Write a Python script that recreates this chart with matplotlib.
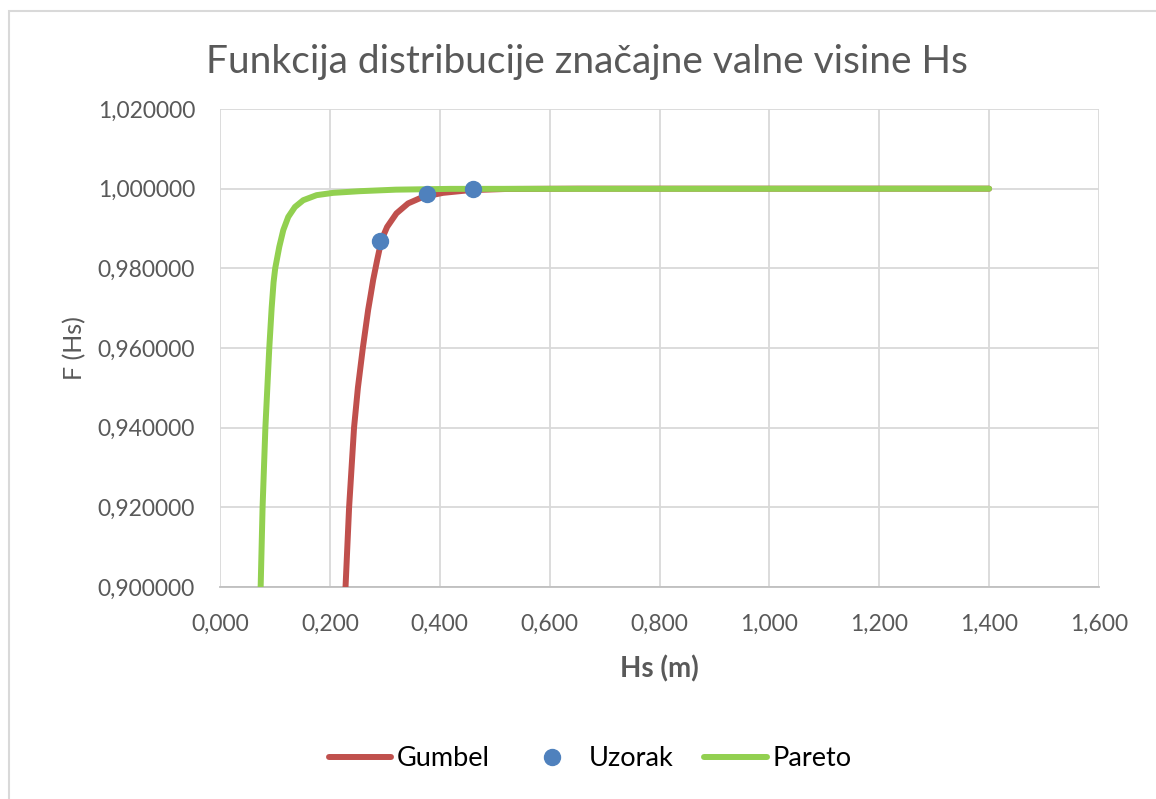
import matplotlib
matplotlib.use('Agg')
import matplotlib.pyplot as plt
from matplotlib.ticker import FuncFormatter, MultipleLocator
from matplotlib.patches import Rectangle

plt.rcParams['font.family'] = ['Lato', 'DejaVu Sans']

# Gumbel - očitane točke krivulje
gumbel_hs = [0.2285, 0.2350, 0.2440, 0.2510, 0.2600, 0.2697, 0.2745, 0.2788,
             0.2861, 0.2939, 0.3042, 0.3212, 0.3424, 0.3697, 0.4060, 0.4545, 0.5200,
             0.6500, 1.4000]
gumbel_f = [0.9000, 0.9200, 0.9400, 0.9500, 0.9600, 0.9696, 0.9735, 0.9771,
            0.9821, 0.9871, 0.9904, 0.9938, 0.9963, 0.99795, 0.99895, 0.99962, 0.99992,
            1.0000, 1.0000]

# Pareto
pareto_hs = [0.0740, 0.0775, 0.0826, 0.0897, 0.0940, 0.0975, 0.1005,
             0.1079, 0.1152, 0.1242, 0.1364, 0.1515, 0.1758, 0.2060, 0.2545, 0.3200,
             0.4200, 1.4000]
pareto_f = [0.9000, 0.9200, 0.9400, 0.9600, 0.9700, 0.9765, 0.9800,
            0.9854, 0.9896, 0.9929, 0.9954, 0.9971, 0.99837, 0.99895, 0.99937, 0.99975,
            0.99995, 1.0000]

# Uzorak
uzorak_hs = [0.2921, 0.3764, 0.4606]
uzorak_f = [0.98694, 0.99855, 1.0000]

fig = plt.figure(figsize=(11.56, 7.99), dpi=100)
ax = fig.add_axes([220 / 1156, 1 - 587 / 799, 879 / 1156, 478 / 799])

grey = '#595959'
ax.plot(gumbel_hs, gumbel_f, color='#C0504D', lw=4.3, solid_capstyle='round',
        solid_joinstyle='round', label='Gumbel', zorder=3)
ax.plot(uzorak_hs, uzorak_f, 'o', color='#4F81BD', ms=11.5, label='Uzorak', zorder=5)
ax.plot(pareto_hs, pareto_f, color='#92D050', lw=4.3, solid_capstyle='round',
        solid_joinstyle='round', label='Pareto', zorder=4)

ax.set_xlim(0, 1.6)
ax.set_ylim(0.9, 1.02)
ax.xaxis.set_major_locator(MultipleLocator(0.2))
ax.yaxis.set_major_locator(MultipleLocator(0.02))
ax.xaxis.set_major_formatter(FuncFormatter(lambda v, p: f'{v:.3f}'.replace('.', ',')))
ax.yaxis.set_major_formatter(FuncFormatter(lambda v, p: f'{v:.6f}'.replace('.', ',')))
ax.grid(True, color='#D9D9D9', lw=1.3, zorder=0)
ax.set_axisbelow(True)
for s in ['top', 'right', 'left']:
    ax.spines[s].set_visible(False)
ax.spines['bottom'].set_color('#BFBFBF')
ax.spines['bottom'].set_linewidth(1.3)
ax.tick_params(length=0, labelsize=16.5, labelcolor=grey)
ax.tick_params(axis='y', pad=18)
ax.tick_params(axis='x', pad=19)

ax.set_xlabel('Hs (m)', fontsize=20, fontweight='bold', color=grey, labelpad=15)
ax.set_ylabel('F (Hs)', fontsize=18, color=grey, labelpad=8)
fig.text(587 / 1156, 1 - 62 / 799, 'Funkcija distribucije značajne valne visine Hs',
         ha='center', va='center', fontsize=28, color=grey)

fig.legend(loc='center', bbox_to_anchor=(590 / 1156, 1 - 759 / 799), ncol=3, frameon=False,
           fontsize=19.5, handlelength=2.3, handletextpad=0.2, columnspacing=1.15,
           labelcolor='black')

fig.patches.append(Rectangle((9 / 1156, -0.1), 1.2, 1.1 - 11 / 799, transform=fig.transFigure,
                             fill=False, edgecolor='#D9D9D9', lw=1.5))

fig.savefig('out.png', dpi=100, facecolor='white')
